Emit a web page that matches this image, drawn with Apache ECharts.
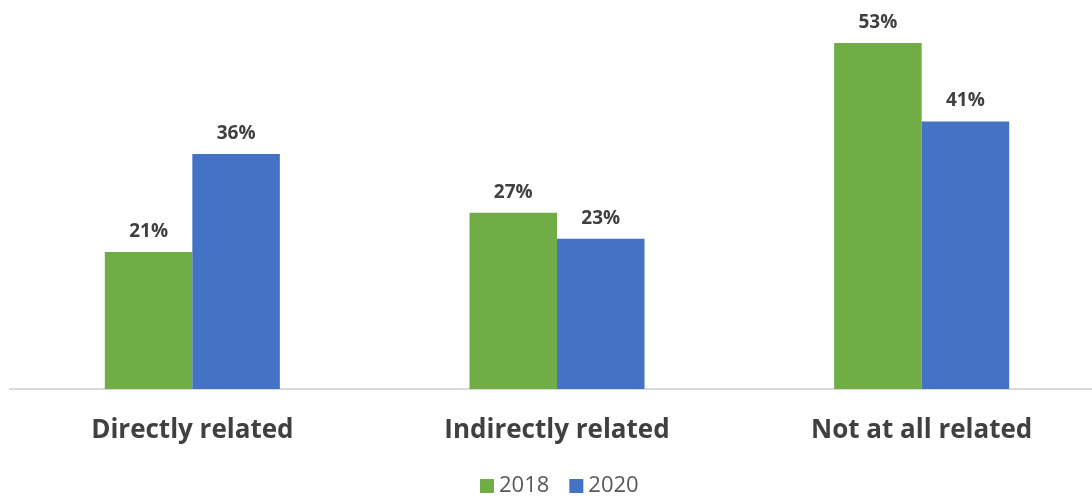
<!DOCTYPE html>
<html>
<head>
<meta charset="utf-8">
<script src="https://cdn.jsdelivr.net/npm/echarts@6/dist/echarts.min.js"></script>
<style>
  html, body { margin: 0; padding: 0; background: #fff; overflow: hidden; }
  #chart { width: 1104px; height: 501px; }
</style>
</head>
<body>
<div id="chart"></div>
<script>
// Share of respondents, by how related the work is
const categories = ['Directly related', 'Indirectly related', 'Not at all related'];
const values2018 = [21, 27, 53];
const values2020 = [36, 23, 41];
const seriesNames = ['2018', '2020'];

const chart = echarts.init(document.getElementById('chart'));

const labelStyle = {
  show: true,
  position: 'top',
  distance: 11,
  formatter: '{c}%',
  fontFamily: 'Open Sans',
  fontWeight: 'bold',
  fontSize: 19,
  color: '#404040'
};

chart.setOption({
  animation: false,
  grid: { left: 10, right: 0, top: 30, bottom: 112, containLabel: false },
  legend: {
    bottom: -1,
    left: 475,
    itemWidth: 14,
    itemHeight: 14,
    itemGap: 20,
    icon: 'rect',
    textStyle: { fontFamily: 'Open Sans', fontSize: 22, color: '#595959' },
    data: seriesNames
  },
  xAxis: {
    type: 'category',
    data: categories,
    axisLine: { lineStyle: { color: '#d9d9d9', width: 2 } },
    axisTick: { show: false },
    axisLabel: {
      margin: 29,
      fontFamily: 'Open Sans',
      fontWeight: 'bold',
      fontSize: 26,
      color: '#404040'
    }
  },
  yAxis: {
    type: 'value',
    min: 0,
    max: 55,
    show: false,
    splitLine: { show: false }
  },
  series: [
    {
      name: seriesNames[0],
      type: 'bar',
      data: values2018,
      barGap: '0%',
      barCategoryGap: '52%',
      itemStyle: { color: '#70AD47' },
      label: labelStyle
    },
    {
      name: seriesNames[1],
      type: 'bar',
      data: values2020,
      itemStyle: { color: '#4472C4' },
      label: labelStyle
    }
  ]
});
</script>
</body>
</html>
